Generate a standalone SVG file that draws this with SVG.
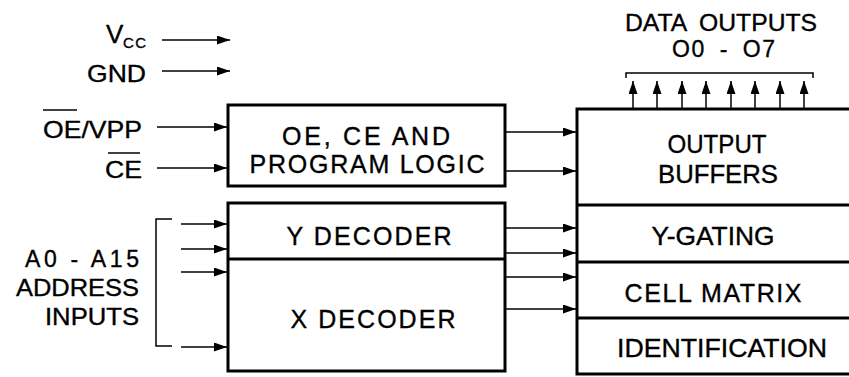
<svg xmlns="http://www.w3.org/2000/svg" width="849" height="377" viewBox="0 0 849 377">
<defs>
<marker id="ah" markerUnits="userSpaceOnUse" markerWidth="13" markerHeight="9" refX="13" refY="4.5" orient="auto">
<path d="M0,0 L13,4.5 L0,9 z" fill="#000"/>
</marker>
<style>
text{font-family:"Liberation Sans",Arial,sans-serif;fill:#000;stroke:#000;stroke-width:0.35}
.lbl{font-size:24px}
.adr{font-size:23px}
.dat{font-size:23px;word-spacing:6px}
.box{font-size:25px;text-anchor:middle}
.sub{font-size:15px}
.blk{fill:none;stroke:#000;stroke-width:3}
.wire{fill:none;stroke:#000;stroke-width:1.5}
.arr{fill:none;stroke:#000;stroke-width:1.5;marker-end:url(#ah)}
.ovl{stroke:#000;stroke-width:1.5}
</style>
</defs>
<rect width="849" height="377" fill="#fff"/>

<g id="pin-labels">
<text x="106" y="43" style="font-size:26px">V</text><text class="sub" x="123" y="48" textLength="23" lengthAdjust="spacing">CC</text>
<text class="lbl" x="87" y="82" textLength="59" lengthAdjust="spacingAndGlyphs">GND</text>
<text class="lbl" x="43" y="138" textLength="99" lengthAdjust="spacingAndGlyphs">OE/VPP</text>
<line class="ovl" x1="43" y1="110" x2="77" y2="110"/>
<text class="lbl" x="105" y="178" textLength="37" lengthAdjust="spacingAndGlyphs">CE</text>
<line class="ovl" x1="108" y1="153" x2="140" y2="153"/>
<text class="adr" x="25" y="267" textLength="114" lengthAdjust="spacing">A0 - A15</text>
<text class="adr" x="16" y="296" textLength="123" lengthAdjust="spacingAndGlyphs">ADDRESS</text>
<text class="adr" x="45" y="325" textLength="94" lengthAdjust="spacingAndGlyphs">INPUTS</text>
<text class="dat" x="625" y="31" textLength="192" lengthAdjust="spacingAndGlyphs">DATA OUTPUTS</text>
<text class="dat" x="672" y="57" textLength="103" lengthAdjust="spacing">O0 - O7</text>
</g>

<g id="control-logic">
<rect class="blk" x="228" y="105" width="277" height="81"/>
<text class="box" x="366" y="145" textLength="168" lengthAdjust="spacing">OE, CE AND</text>
<text class="box" x="367" y="173" textLength="235" lengthAdjust="spacing">PROGRAM LOGIC</text>
</g>

<g id="decoders">
<rect class="blk" x="228" y="203" width="277" height="168"/>
<line class="blk" x1="228" y1="259" x2="505" y2="259"/>
<text class="box" x="369" y="245" textLength="165" lengthAdjust="spacing">Y DECODER</text>
<text class="box" x="373" y="328" textLength="165" lengthAdjust="spacing">X DECODER</text>
</g>

<g id="memory-array">
<path class="blk" d="M849,109 H577 V374 H849"/>
<line class="blk" x1="577" y1="205" x2="849" y2="205"/>
<line class="blk" x1="577" y1="262" x2="849" y2="262"/>
<line class="blk" x1="577" y1="318" x2="849" y2="318"/>
<text class="box" x="717" y="153" textLength="99" lengthAdjust="spacingAndGlyphs">OUTPUT</text>
<text class="box" x="718" y="183" textLength="120" lengthAdjust="spacingAndGlyphs">BUFFERS</text>
<text class="box" x="713" y="245" textLength="123" lengthAdjust="spacingAndGlyphs">Y-GATING</text>
<text class="box" x="713" y="302" textLength="177" lengthAdjust="spacing">CELL MATRIX</text>
<text class="box" x="722" y="357" textLength="210" lengthAdjust="spacingAndGlyphs">IDENTIFICATION</text>
</g>

<g id="connectors">
<line class="arr" x1="162" y1="40" x2="230" y2="40"/>
<line class="arr" x1="162" y1="71" x2="230" y2="71"/>
<line class="arr" x1="157" y1="127" x2="227" y2="127"/>
<line class="arr" x1="157" y1="168" x2="227" y2="168"/>
<path class="wire" d="M172,219 H156 V346 H172"/>
<line class="arr" x1="181" y1="224" x2="227" y2="224"/>
<line class="arr" x1="181" y1="249" x2="227" y2="249"/>
<line class="arr" x1="181" y1="272" x2="227" y2="272"/>
<line class="arr" x1="181" y1="347" x2="227" y2="347"/>
<line class="arr" x1="506" y1="132" x2="576" y2="132"/>
<line class="arr" x1="506" y1="171" x2="576" y2="171"/>
<line class="arr" x1="506" y1="228" x2="576" y2="228"/>
<line class="arr" x1="506" y1="253" x2="576" y2="253"/>
<line class="arr" x1="506" y1="277" x2="576" y2="277"/>
<line class="arr" x1="506" y1="309" x2="576" y2="309"/>
<path class="wire" d="M626,78 V73 H813 V78"/>
<line class="arr" x1="633" y1="108" x2="633" y2="81"/>
<line class="arr" x1="657" y1="108" x2="657" y2="81"/>
<line class="arr" x1="682" y1="108" x2="682" y2="81"/>
<line class="arr" x1="706" y1="108" x2="706" y2="81"/>
<line class="arr" x1="731" y1="108" x2="731" y2="81"/>
<line class="arr" x1="755" y1="108" x2="755" y2="81"/>
<line class="arr" x1="780" y1="108" x2="780" y2="81"/>
<line class="arr" x1="804" y1="108" x2="804" y2="81"/>
</g>
</svg>
